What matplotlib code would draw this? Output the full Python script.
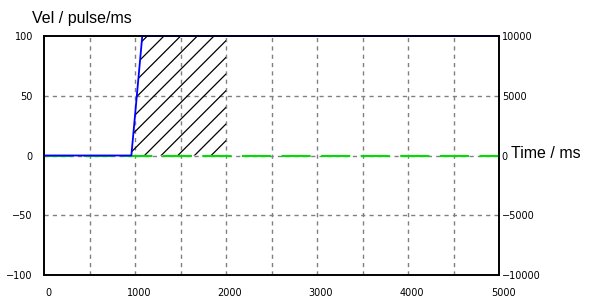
import numpy as np
import matplotlib
matplotlib.use("Agg")
import matplotlib.pyplot as plt
import matplotlib.transforms as mtrans

# velocity profile (ms, pulse/ms)
t_vel = [0, 960, 1080, 5000]
vel = [0, 0, 100, 100]
# hatched region under the profile
t_fill = [960, 1080, 2000]
vel_fill = [0, 100, 100]
# green reference line
t_ref = [0, 5000]
ref = [0, 0]

xticks = [0, 1000, 2000, 3000, 4000, 5000]
yticks = [-100, -50, 0, 50, 100]
yticks_r = [-10000, -5000, 0, 5000, 10000]

plt.rcParams['hatch.linewidth'] = 0.9
plt.rcParams['font.family'] = ['DejaVu Sans']

fig = plt.figure(figsize=(5.89, 3.07), dpi=100)
ax = fig.add_axes([44/589, 32/307, 455/589, 239/307])

ax.set_xlim(0, 5000)
ax.set_ylim(-100, 100)

# grid
for x in np.arange(500, 5000, 500):
    ax.axvline(x, color="#808080", lw=1, ls=(0, (3, 3)), zorder=1)
for y in [-50, 0, 50]:
    ax.axhline(y, color="#808080", lw=1, ls=(0, (3, 3)), zorder=1)

ax.fill_between(t_fill, 0, vel_fill, facecolor="none", edgecolor="k",
                hatch="//", linewidth=0, zorder=2)
ax.plot(t_ref, ref, color="#00dd00", lw=1.5, ls=(0, (14, 5)), zorder=3)
ax.plot(t_vel, vel, color="#0000ff", lw=1.3, zorder=4, clip_on=False)

ax.set_xticks(xticks)
ax.set_yticks(yticks)
ax.tick_params(length=0, labelsize=7, pad=8)
ax.tick_params(axis="x", pad=9)
shift = mtrans.ScaledTranslation(4/100, 0, fig.dpi_scale_trans)
for lab in ax.get_xticklabels():
    lab.set_transform(lab.get_transform() + shift)
for s in ax.spines.values():
    s.set_linewidth(1.2)

ax2 = ax.twinx()
ax2.set_ylim(-10000, 10000)
ax2.set_yticks(yticks_r)
ax2.tick_params(length=0, labelsize=7, pad=2)
for s in ax2.spines.values():
    s.set_linewidth(1.2)

fig.text(32/589, 1 - 18/307, "Vel / pulse/ms", fontsize=11.5, va="center",
         family="Liberation Sans")
fig.text(511/589, 1 - 153/307, "Time / ms", fontsize=11.5, va="center",
         family="Liberation Sans")

fig.savefig("out.png", dpi=100)
